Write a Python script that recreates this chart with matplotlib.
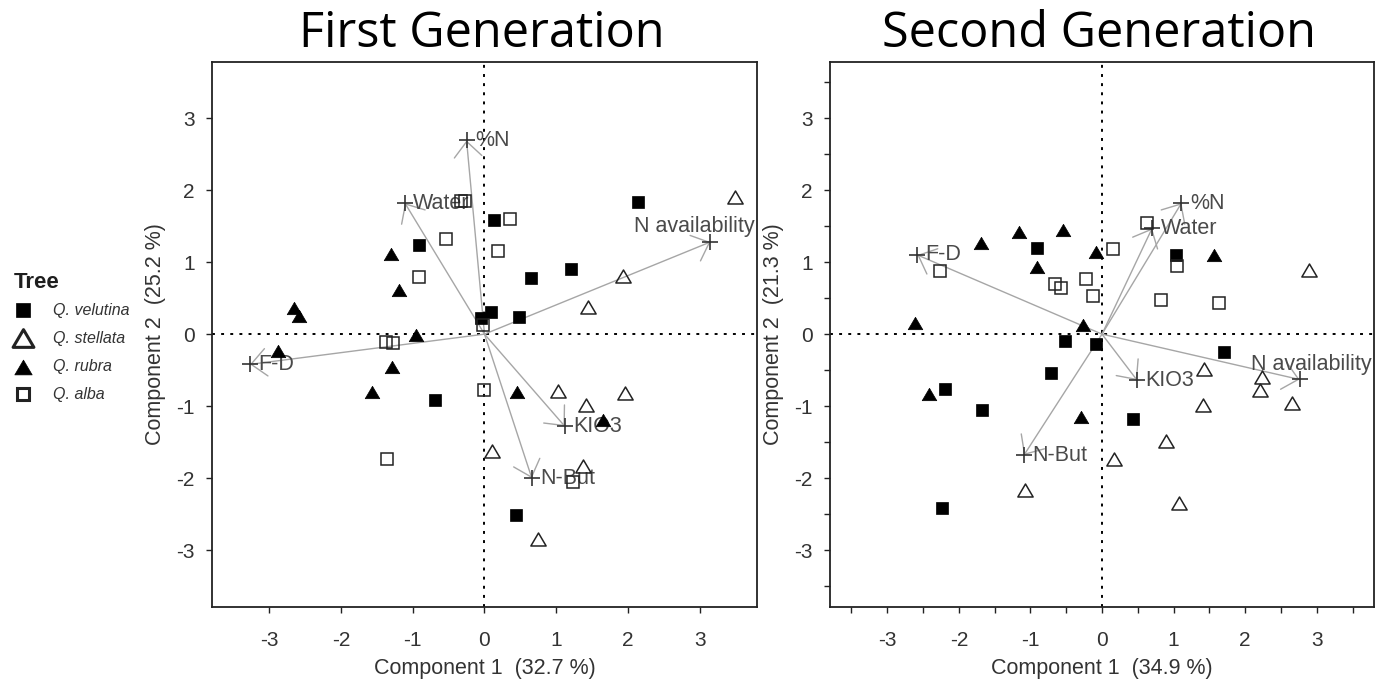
import matplotlib
matplotlib.use("Agg")
import matplotlib.pyplot as plt
from matplotlib.path import Path
from matplotlib.ticker import MultipleLocator

plt.rcParams['font.family'] = ['Liberation Sans', 'DejaVu Sans']
plt.rcParams['axes.unicode_minus'] = False

species = ["Q. velutina", "Q. stellata", "Q. rubra", "Q. alba"]
variables = ["%N", "Water", "N availability", "F-D", "KIO3", "N-But"]

# ---- First generation: PCA scores per species ----
g1_velutina_x = [0.13, -0.92, 0.09, -0.05, 2.14, 0.65, 1.21, 0.48, -0.69, 0.44]
g1_velutina_y = [1.58, 1.24, 0.31, 0.22, 1.84, 0.78, 0.91, 0.24, -0.92, -2.51]
g1_stellata_x = [3.50, 1.93, 1.44, 1.03, 1.96, 1.42, 0.10, 1.38, 0.75]
g1_stellata_y = [1.91, 0.81, 0.38, -0.79, -0.82, -0.99, -1.63, -1.83, -2.84]
g1_rubra_x = [-1.30, -1.19, -2.65, -2.58, -2.88, -0.96, -1.29, -1.57, 0.45, 1.65]
g1_rubra_y = [1.12, 0.61, 0.37, 0.25, -0.23, -0.01, -0.46, -0.80, -0.80, -1.19]
g1_alba_x = [-0.33, -0.27, 0.19, 0.35, -0.53, -0.92, -0.02, -1.38, -1.28, -0.01, -1.36, 1.23]
g1_alba_y = [1.85, 1.85, 1.15, 1.60, 1.32, 0.80, 0.13, -0.11, -0.12, -0.78, -1.73, -2.05]

# First generation: variable loadings (biplot rays)
g1_load_x = [-0.25, -1.11, 3.15, -3.27, 1.12, 0.66]
g1_load_y = [2.69, 1.82, 1.28, -0.42, -1.28, -2.00]

# ---- Second generation: PCA scores per species ----
g2_velutina_x = [-0.91, 1.04, -0.51, -0.08, -0.71, -2.20, -1.68, -2.23, 1.70, 0.44]
g2_velutina_y = [1.20, 1.10, -0.09, -0.14, -0.54, -0.76, -1.06, -2.41, -0.25, -1.18]
g2_stellata_x = [2.89, -1.07, 0.17, 1.43, 2.24, 2.21, 2.66, 1.41, 0.90, 1.07]
g2_stellata_y = [0.89, -2.17, -1.74, -0.49, -0.59, -0.78, -0.96, -0.99, -1.48, -2.35]
g2_rubra_x = [-1.69, -1.16, -0.54, -0.91, -0.09, -2.61, -0.27, 1.56, -2.41, -0.30]
g2_rubra_y = [1.27, 1.42, 1.44, 0.93, 1.14, 0.15, 0.125, 1.10, -0.83, -1.15]
g2_alba_x = [0.15, -2.26, -0.65, -0.57, -0.23, -0.13, 0.63, 1.05, 0.83, 1.63]
g2_alba_y = [1.18, 0.875, 0.69, 0.64, 0.77, 0.53, 1.55, 0.95, 0.48, 0.43]

# Second generation: variable loadings
g2_load_x = [1.11, 0.70, 2.76, -2.58, 0.49, -1.09]
g2_load_y = [1.82, 1.47, -0.63, 1.10, -0.64, -1.68]

titles = ["First Generation", "Second Generation"]
xlabels = ["Component 1  (32.7 %)", "Component 1  (34.9 %)"]
ylabels = ["Component 2  (25.2 %)", "Component 2  (21.3 %)"]
ticks = [-3, -2, -1, 0, 1, 2, 3]

# closed, slightly squat triangle marker
TRI = Path([(0, 0.85), (-1, -0.85), (1, -0.85), (0, 0.85)],
           [Path.MOVETO, Path.LINETO, Path.LINETO, Path.CLOSEPOLY])
marker_styles = {
    "Q. velutina": dict(marker="s", ms=8, mfc="black", mec="black", mew=0.5),
    "Q. stellata": dict(marker=TRI, ms=11, mfc="none", mec="#222222", mew=1.1),
    "Q. rubra": dict(marker=TRI, ms=10.5, mfc="black", mec="black", mew=0.5),
    "Q. alba": dict(marker="s", ms=8.2, mfc="none", mec="#222222", mew=1.1),
}

W, H = 1376, 686
fig = plt.figure(figsize=(W / 100, H / 100), dpi=100)
ax1 = fig.add_axes([212 / W, 1 - 607 / H, 545 / W, 545 / H])
ax2 = fig.add_axes([830 / W, 1 - 607 / H, 544 / W, 545 / H])

panels = [
    (ax1, [(g1_velutina_x, g1_velutina_y), (g1_stellata_x, g1_stellata_y),
           (g1_rubra_x, g1_rubra_y), (g1_alba_x, g1_alba_y)], g1_load_x, g1_load_y, False),
    (ax2, [(g2_velutina_x, g2_velutina_y), (g2_stellata_x, g2_stellata_y),
           (g2_rubra_x, g2_rubra_y), (g2_alba_x, g2_alba_y)], g2_load_x, g2_load_y, True),
]

XLIM = (-3.80, 3.80)
YLIM = (-3.79, 3.78)
label_col = "#4a4a4a"

for i, (ax, scores, lx, ly, minor) in enumerate(panels):
    ax.set_xlim(*XLIM)
    ax.set_ylim(*YLIM)
    dots = (0, (1.5, 3.2))
    ax.axhline(0, color="black", lw=1.4, ls=dots, zorder=1)
    ax.axvline(0, color="black", lw=1.4, ls=dots, zorder=1)

    # biplot rays
    for name, vx, vy in zip(variables, lx, ly):
        ax.annotate("", xy=(vx, vy), xytext=(0, 0),
                    arrowprops=dict(arrowstyle="->,head_length=1.0,head_width=0.9",
                                    mutation_scale=11, color="#a6a6a6", lw=1.0,
                                    shrinkA=0, shrinkB=0), zorder=2)
        ax.plot([vx], [vy], marker="+", ms=12, mew=1.2, color="#333333", zorder=3)
        if name == "N availability":
            ax.text(XLIM[1] - 0.03, vy + 0.21, name, ha="right", va="center",
                    fontsize=15.5, color=label_col, zorder=4)
        else:
            ax.annotate(name, xy=(vx, vy), xytext=(6, 0), textcoords="offset points",
                        ha="left", va="center", fontsize=15.5, color=label_col, zorder=4)

    for sp, (sx, sy) in zip(species, scores):
        ax.plot(sx, sy, ls="none", zorder=5, **marker_styles[sp])

    ax.set_xticks(ticks)
    ax.set_yticks(ticks)
    if minor:
        ax.xaxis.set_minor_locator(MultipleLocator(0.5))
        ax.yaxis.set_minor_locator(MultipleLocator(0.5))
        ax.tick_params(which="minor", length=4.3, width=1.0, color="#222222")
    ax.tick_params(which="major", length=4.3, width=1.0, color="#222222",
                   labelsize=15, labelcolor="#333333")
    ax.tick_params(axis="y", pad=8)
    ax.tick_params(axis="x", pad=13)
    for s in ax.spines.values():
        s.set_color("#222222")
        s.set_linewidth(1.3)

    ax.set_xlabel(xlabels[i], fontsize=15.5, color="#333333")
    ax.xaxis.set_label_coords(0.5, -0.112)
    ax.xaxis.label.set_va("center")
    ax.set_ylabel(ylabels[i], fontsize=15.5, color="#333333")
    ax.yaxis.set_label_coords(-0.104, 0.5)
    ax.yaxis.label.set_va("center")

fig.text(482 / W, 1 - 47 / H, titles[0], fontsize=35, family="Open Sans",
         ha="center", va="baseline", color="black")
fig.text(1099 / W, 1 - 47 / H, titles[1], fontsize=35, family="Open Sans",
         ha="center", va="baseline", color="black")

# legend
lax = fig.add_axes([0, 0, 1, 1], facecolor="none")
lax.set_xlim(0, W)
lax.set_ylim(H, 0)
lax.axis("off")
lax.text(14, 283, "Tree", fontsize=16, fontweight="bold", color="#1e1e1e",
         ha="left", va="center")
legend_y = [310, 338, 367, 394]
legend_marks = {
    "Q. velutina": dict(marker="s", ms=9.5, mfc="black", mec="black", mew=0.5),
    "Q. stellata": dict(marker=TRI, ms=15, mfc="none", mec="#222222", mew=2.2),
    "Q. rubra": dict(marker=TRI, ms=12.5, mfc="black", mec="black", mew=0.5),
    "Q. alba": dict(marker="s", ms=9, mfc="none", mec="#222222", mew=2.2),
}
for sp, yy in zip(species, legend_y):
    lax.plot([23], [yy], ls="none", **legend_marks[sp])
    lax.text(53, yy, sp, fontsize=11.5, style="italic", color="#333333",
             ha="left", va="center")

fig.savefig("out.png", dpi=100)
